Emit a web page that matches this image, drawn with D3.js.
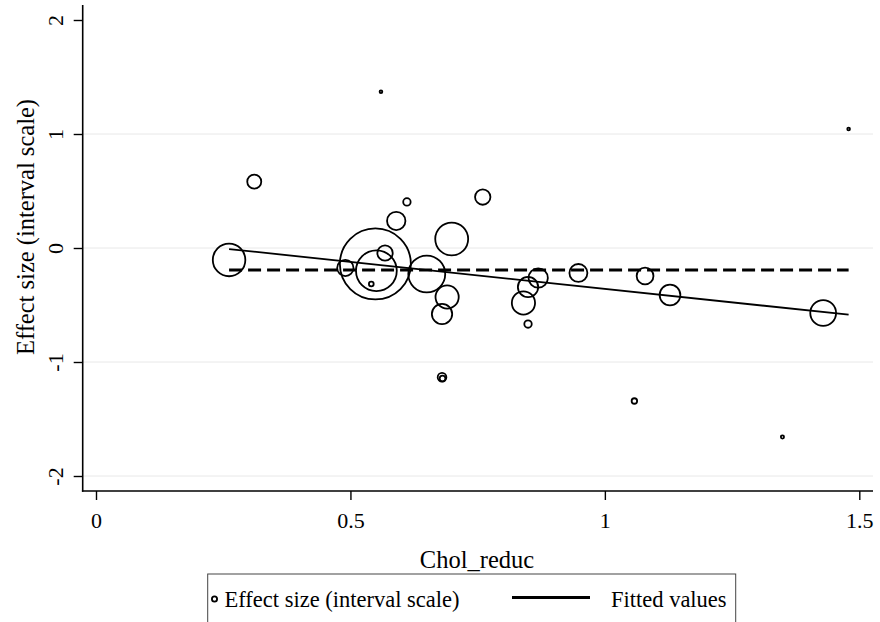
<!DOCTYPE html>
<html>
<head>
<meta charset="utf-8">
<script src="https://cdn.jsdelivr.net/npm/d3@7"></script>
<style>
  html, body { margin: 0; padding: 0; background: #fff; }
  svg { display: block; }
  svg text { font-family: "Liberation Serif", "Times New Roman", serif !important; fill: #000; }
</style>
</head>
<body>
<div id="chart"></div>
<script>
// ---- data ----
const cholReduc = [0.2615, 0.311, 0.490, 0.549, 0.551, 0.541, 0.568, 0.590, 0.611, 0.650,
                   0.699, 0.690, 0.680, 0.760, 0.840, 0.849, 0.869, 0.849, 0.948, 1.079,
                   1.128, 1.429, 0.560, 0.680, 0.681, 1.058, 1.349, 1.479];
const effectSize = [-0.105, 0.582, -0.175, -0.140, -0.200, -0.316, -0.044, 0.237, 0.404, -0.228,
                    0.079, -0.430, -0.579, 0.447, -0.482, -0.342, -0.263, -0.667, -0.219, -0.246,
                    -0.412, -0.570, 1.371, -1.134, -1.145, -1.342, -1.658, 1.044];
const weights = [21.0, 3.9, 5.3, 100, 33.0, 0.45, 4.7, 6.7, 1.1, 27.0,
                 21.5, 10.7, 8.2, 4.7, 10.7, 8.2, 7.4, 1.1, 6.4, 5.6,
                 8.5, 13.2, 0.15, 1.5, 0.65, 0.6, 0.2, 0.15];
const fittedX = [0.2615, 1.479];
const fittedY = [-0.009, -0.585];
const pooledEffect = -0.193;
const xTicks = [0, 0.5, 1, 1.5];
const yTicks = [-2, -1, 0, 1, 2];
const yGrid = [-2, -1, 0, 1];
const xTitle = "Chol_reduc";
const yTitle = "Effect size (interval scale)";
const legendLabels = ["Effect size (interval scale)", "Fitted values"];

// ---- layout ----
const W = 880, H = 622;
const FONT = '"Liberation Serif", "Times New Roman", serif';
const svg = d3.select("#chart").append("svg").attr("width", W).attr("height", H);

const x = d3.scaleLinear().domain([0, 1.5]).range([96, 859.3]);
const y = d3.scaleLinear().domain([-2, 2]).range([476, 20]);
const r = d3.scaleSqrt().domain([0, 100]).range([0, 35.5]);

const axisLeftX = 82.7, axisBottomY = 491, plotRight = 873, plotTop = 5;
const fmt = d => String(d); // plain hyphen-minus like the reference

// gridlines
svg.append("g").selectAll("line").data(yGrid).join("line")
  .attr("x1", axisLeftX).attr("x2", plotRight)
  .attr("y1", d => y(d)).attr("y2", d => y(d))
  .attr("stroke", "#e8e8e8").attr("stroke-width", 1);

// axes
const gy = svg.append("g").attr("transform", `translate(${axisLeftX},0)`)
  .call(d3.axisLeft(y).tickValues(yTicks).tickSize(9).tickFormat(fmt));
gy.attr("font-family", null).attr("font-size", null);
gy.select(".domain").remove();
gy.selectAll(".tick line").attr("stroke", "#000").attr("stroke-width", 1.4);
gy.selectAll(".tick text")
  .style("font-family", FONT).style("font-size", "22px")
  .attr("text-anchor", "middle")
  .attr("transform", `translate(${63.5 - axisLeftX},0) rotate(-90)`)
  .attr("x", 0).attr("dy", 0).attr("y", 0);

const gx = svg.append("g").attr("transform", `translate(0,${axisBottomY})`)
  .call(d3.axisBottom(x).tickValues(xTicks).tickSize(9).tickFormat(fmt));
gx.attr("font-family", null).attr("font-size", null);
gx.select(".domain").remove();
gx.selectAll(".tick line").attr("stroke", "#000").attr("stroke-width", 1.4);
gx.selectAll(".tick text")
  .style("font-family", FONT).style("font-size", "22px")
  .attr("y", 37).attr("dy", 0);

svg.append("line").attr("x1", axisLeftX).attr("x2", axisLeftX)
  .attr("y1", plotTop).attr("y2", axisBottomY + 0.8)
  .attr("stroke", "#000").attr("stroke-width", 1.6);
svg.append("line").attr("x1", axisLeftX - 0.8).attr("x2", plotRight)
  .attr("y1", axisBottomY).attr("y2", axisBottomY)
  .attr("stroke", "#000").attr("stroke-width", 1.6);

// axis titles
svg.append("text").attr("transform", `translate(33.5,227) rotate(-90)`)
  .attr("text-anchor", "middle").style("font-size", "24.5px").text(yTitle);
svg.append("text").attr("x", 477).attr("y", 568)
  .attr("text-anchor", "middle").style("font-size", "24.5px").text(xTitle);

// scatter
const pts = cholReduc.map((cx, i) => ({ cx, cy: effectSize[i], w: weights[i] }));
svg.append("g").selectAll("circle").data(pts).join("circle")
  .attr("cx", d => x(d.cx)).attr("cy", d => y(d.cy))
  .attr("r", d => Math.max(1.2, r(d.w)))
  .attr("fill", "none").attr("stroke", "#000").attr("stroke-width", 1.8);

// pooled (dashed) line
svg.append("line")
  .attr("x1", x(d3.min(cholReduc))).attr("x2", x(d3.max(cholReduc)))
  .attr("y1", y(pooledEffect)).attr("y2", y(pooledEffect))
  .attr("stroke", "#000").attr("stroke-width", 3).attr("stroke-dasharray", "13,6");

// fitted line
const line = d3.line().x(d => x(d[0])).y(d => y(d[1]));
svg.append("path").datum(fittedX.map((fx, i) => [fx, fittedY[i]]))
  .attr("d", line).attr("fill", "none").attr("stroke", "#000").attr("stroke-width", 1.8);

// legend
const lg = svg.append("g");
lg.append("rect").attr("x", 207.7).attr("y", 574).attr("width", 528).attr("height", 60)
  .attr("fill", "#fff").attr("stroke", "#444").attr("stroke-width", 1);
lg.append("circle").attr("cx", 214.5).attr("cy", 599).attr("r", 2.6)
  .attr("fill", "none").attr("stroke", "#000").attr("stroke-width", 1.8);
lg.append("text").attr("x", 224.5).attr("y", 607).style("font-size", "22.5px").text(legendLabels[0]);
lg.append("line").attr("x1", 512).attr("x2", 590).attr("y1", 597.5).attr("y2", 597.5)
  .attr("stroke", "#000").attr("stroke-width", 2.8);
lg.append("text").attr("x", 611).attr("y", 607).style("font-size", "22.5px").text(legendLabels[1]);
</script>
</body>
</html>
